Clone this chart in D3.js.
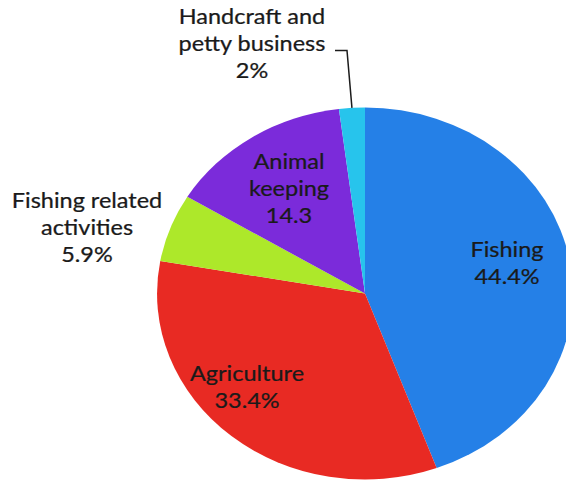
<!DOCTYPE html>
<html>
<head>
<meta charset="utf-8">
<script src="https://cdn.jsdelivr.net/npm/d3@7/dist/d3.min.js"></script>
<style>
  html, body { margin: 0; padding: 0; background: #fff; }
  svg { display: block; }
  text { font-family: Lato, "Open Sans", sans-serif; fill: #1a1a1a; stroke: #1a1a1a; stroke-width: 0.25; }
</style>
</head>
<body>
<svg id="chart" width="566" height="482"></svg>
<script>
// Share of household livelihood activities (percent)
const categories = ["Fishing", "Agriculture", "Fishing related activities", "Animal keeping", "Handcraft and petty business"];
const values = [44.4, 33.4, 5.9, 14.3, 2];
const valueLabels = ["44.4%", "33.4%", "5.9%", "14.3", "2%"];
const colors = ["#2580e7", "#e82a23", "#ade82a", "#7b2bda", "#27c4ec"];

// Label text lines for each slice
const labelLines = [
  ["Fishing"],
  ["Agriculture"],
  ["Fishing related", "activities"],
  ["Animal", "keeping"],
  ["Handcraft and", "petty business"]
];

const W = 566, H = 482;
const cx = 365, cy = 293.5;
const r = 186;          // vertical radius
const sx = 1.118;       // horizontal stretch of the pie
const fontSize = 21;
const lineH = 27;

// Label anchor (centre of first line baseline) for each slice
const labelPos = [
  { x: 507, y: 257 },
  { x: 247, y: 381 },
  { x: 87, y: 208 },
  { x: 289, y: 169 },
  { x: 252, y: 24 }
];

const svg = d3.select("#chart");

const pie = d3.pie().sort(null).value(d => d)
  .startAngle(0).endAngle(2 * Math.PI);
const arcs = pie(values);
const arc = d3.arc().innerRadius(0).outerRadius(r);

const pieG = svg.append("g")
  .attr("transform", `translate(${cx},${cy}) scale(${sx},1)`);

pieG.selectAll("path")
  .data(arcs)
  .join("path")
  .attr("d", arc)
  .attr("fill", (d, i) => colors[i]);

// Leader line for the small slice
const hIdx = 4;
const hMid = (arcs[hIdx].startAngle + arcs[hIdx].endAngle) / 2;
const edgeX = cx + Math.sin(hMid) * r * sx;
const edgeY = cy - Math.cos(hMid) * r;
svg.append("path")
  .attr("d", d3.line()([[335, 50.5], [347, 50.5], [edgeX, edgeY]]))
  .attr("fill", "none")
  .attr("stroke", "#1c1c1c")
  .attr("stroke-width", 1.5);

// Labels
categories.forEach((c, i) => {
  const lines = labelLines[i].concat([valueLabels[i]]);
  const p = labelPos[i];
  const g = svg.append("g")
    .attr("transform", `translate(${p.x},${p.y}) scale(${sx},1)`);
  g.selectAll("text")
    .data(lines)
    .join("text")
    .attr("x", 0)
    .attr("y", (d, k) => k * lineH)
    .attr("text-anchor", "middle")
    .attr("font-size", fontSize)
    .text(d => d);
});
</script>
</body>
</html>
